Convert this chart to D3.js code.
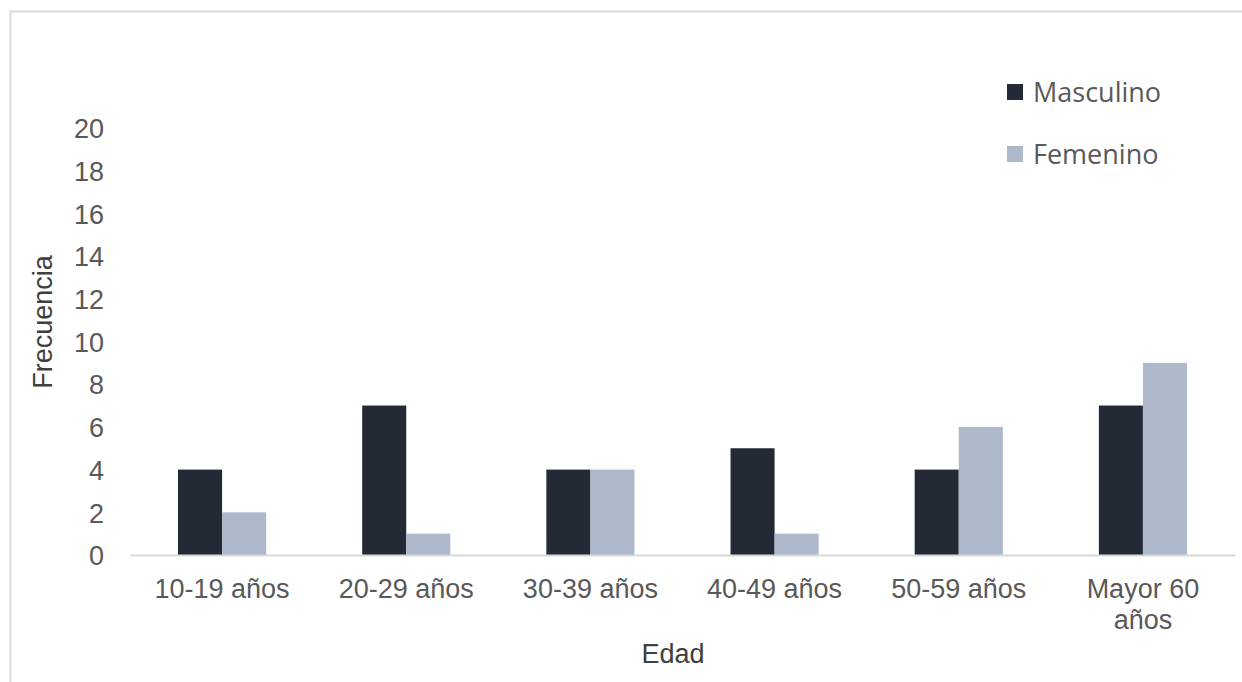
<!DOCTYPE html>
<html><head><meta charset="utf-8">
<script src="https://cdn.jsdelivr.net/npm/d3@7"></script>
<style>
html,body{margin:0;padding:0;background:#fff;}
svg{display:block;}
</style></head>
<body>
<svg id="chart" width="1242" height="682"></svg>
<script>
const categories = [["10-19 años"],["20-29 años"],["30-39 años"],["40-49 años"],["50-59 años"],["Mayor 60","años"]];
const seriesNames = ["Masculino","Femenino"];
const masculino = [4,7,4,5,4,7];
const femenino = [2,1,4,1,6,9];
const yTicks = [0,2,4,6,8,10,12,14,16,18,20];
const colors = ["#232a35","#adb8ca"];

const svg = d3.select("#chart");
const FONT = "Liberation Sans, Arial, sans-serif";
// chart border
svg.append("rect").attr("x",10.5).attr("y",11.5).attr("width",1260).attr("height",700)
  .attr("fill","none").attr("stroke","#d9d9d9").attr("stroke-width",2);

const keys = categories.map(c=>c.join(" "));
const x0 = d3.scaleBand().domain(keys).range([130,1235]).padding(0);
const x1 = d3.scaleBand().domain(seriesNames).range([0,x0.bandwidth()]).paddingInner(0).paddingOuter(1.09);
const y = d3.scaleLinear().domain([0,20]).range([555,128]);

const data = keys.map((k,i)=>({k, vals:[masculino[i],femenino[i]]}));

// y tick labels
const yAxis = d3.axisLeft(y).tickValues(yTicks).tickSize(0).tickPadding(0);
const gy = svg.append("g").attr("transform","translate(104,0)").call(yAxis);
gy.select(".domain").remove();
gy.selectAll("text").attr("font-family",FONT).attr("font-size",27).attr("fill","#595959").attr("dy","0.36em");

// bars
const groups = svg.append("g").selectAll("g").data(data).join("g")
  .attr("transform",d=>`translate(${x0(d.k)},0)`);
groups.selectAll("rect").data(d=>d.vals.map((v,j)=>({s:seriesNames[j],v,j}))).join("rect")
  .attr("x",d=>x1(d.s)).attr("width",x1.bandwidth())
  .attr("y",d=>y(d.v)).attr("height",d=>y(0)-y(d.v))
  .attr("fill",d=>colors[d.j]);

// x axis line
const xAxis = d3.axisBottom(x0).tickSize(0).tickFormat("");
const gx = svg.append("g").attr("transform",`translate(0,${y(0)})`).call(xAxis);
gx.select(".domain").attr("stroke","#d9d9d9").attr("stroke-width",2);

// x labels
const lab = svg.append("g").selectAll("text").data(categories).join("text")
  .attr("x",(d,i)=>x0(keys[i])+x0.bandwidth()/2)
  .attr("y",598)
  .attr("text-anchor","middle")
  .attr("font-family",FONT).attr("font-size",27).attr("fill","#595959");
lab.selectAll("tspan").data(d=>d).join("tspan")
  .attr("x",function(){return this.parentNode.getAttribute("x");})
  .attr("dy",(d,i)=>i===0?0:31).text(d=>d);

// axis titles
svg.append("text").attr("x",673).attr("y",663).attr("text-anchor","middle")
  .attr("font-family",FONT).attr("font-size",27).attr("fill","#404040").text("Edad");
svg.append("text").attr("transform","translate(52,322) rotate(-90)").attr("text-anchor","middle")
  .attr("font-family",FONT).attr("font-size",27).attr("fill","#404040").text("Frecuencia");

// legend
const leg = svg.append("g").selectAll("g").data(seriesNames).join("g")
  .attr("transform",(d,i)=>`translate(1007,${84+i*62})`);
leg.append("rect").attr("width",16).attr("height",16).attr("fill",(d,i)=>colors[i]);
leg.append("text").attr("x",26).attr("y",18).attr("font-family","Open Sans, Noto Sans, sans-serif")
  .attr("font-size",27).attr("fill","#595959").text(d=>d);
</script>
</body></html>
